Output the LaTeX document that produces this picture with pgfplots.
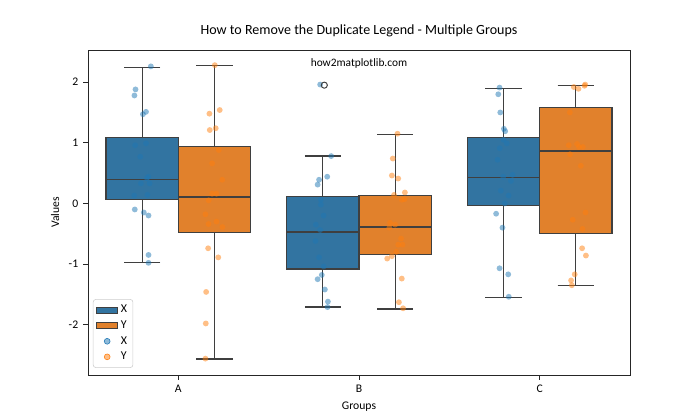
\documentclass[border=0pt]{standalone}
\usepackage{fontspec}
\setmainfont{Carlito}
\usepackage{pgfplots}
\pgfplotsset{compat=1.18}
\usepgfplotslibrary{statistics}
\usetikzlibrary{calc}
\definecolor{boxX}{HTML}{3274A1}
\definecolor{boxY}{HTML}{E1812C}
\definecolor{ptX}{HTML}{1F77B4}
\definecolor{ptY}{HTML}{FF7F0E}
\definecolor{edge}{HTML}{3F3F3F}
\begin{document}
\begin{tikzpicture}
\begin{axis}[
  scale only axis, width=390.24pt, height=234pt,
  xmin=-0.5, xmax=2.5, ymin=-2.83, ymax=2.53,
  xtick={0,1,2}, xticklabels={A,B,C},
  ytick={-2,-1,0,1,2},
  /pgf/number format/assume math mode=true,
  tick align=outside, tick pos=left, major tick length=3.5pt,
  tick style={black!85, line width=0.6pt},
  axis line style={black!85, line width=0.6pt},
  ticklabel style={font=\fontsize{8.4}{10}\selectfont},
  xlabel={Groups}, ylabel={Values},
  label style={font=\fontsize{8.4}{10}\selectfont},
  title={How to Remove the Duplicate Legend - Multiple Groups},
  title style={font=\fontsize{10.1}{12}\selectfont},
  legend style={at={(0.009,0.022)}, anchor=south west, draw=black!20, rounded corners=2pt,
    font=\fontsize{8.6}{10}\selectfont, row sep=0.2pt, inner sep=2.2pt},
  legend cell align=left,
  boxplot/draw direction=y,
]
% boxes
\addplot[boxplot prepared={draw position=-0.2, lower whisker=-0.98, lower quartile=0.07, median=0.40, upper quartile=1.09, upper whisker=2.244, box extend=0.4, whisker extend=0.2}, fill=boxX, draw=edge, line width=0.9pt, forget plot] coordinates {};
\addplot[boxplot prepared={draw position=0.2, lower whisker=-2.567, lower quartile=-0.475, median=0.107, upper quartile=0.942, upper whisker=2.277, box extend=0.4, whisker extend=0.2}, fill=boxY, draw=edge, line width=0.9pt, forget plot] coordinates {};
\addplot[boxplot prepared={draw position=0.8, lower whisker=-1.71, lower quartile=-1.08, median=-0.47, upper quartile=0.12, upper whisker=0.78, box extend=0.4, whisker extend=0.2}, fill=boxX, draw=edge, line width=0.9pt, forget plot] coordinates {};
\addplot[boxplot prepared={draw position=1.2, lower whisker=-1.74, lower quartile=-0.84, median=-0.39, upper quartile=0.13, upper whisker=1.14, box extend=0.4, whisker extend=0.2}, fill=boxY, draw=edge, line width=0.9pt, forget plot] coordinates {};
\addplot[boxplot prepared={draw position=1.8, lower whisker=-1.55, lower quartile=-0.04, median=0.43, upper quartile=1.09, upper whisker=1.90, box extend=0.4, whisker extend=0.2}, fill=boxX, draw=edge, line width=0.9pt, forget plot] coordinates {};
\addplot[boxplot prepared={draw position=2.2, lower whisker=-1.36, lower quartile=-0.50, median=0.865, upper quartile=1.58, upper whisker=1.95, box extend=0.4, whisker extend=0.2}, fill=boxY, draw=edge, line width=0.9pt, forget plot] coordinates {};
% strip points X
\addplot[only marks, color=ptX, mark=*, mark size=2.1pt, mark options={fill=ptX, fill opacity=0.5, draw opacity=0}, forget plot] coordinates {
(-0.152,2.26) (-0.237,1.88) (-0.243,1.78) (-0.179,1.51) (-0.196,1.47) (-0.239,0.96) (-0.179,0.99) (-0.211,0.77) (-0.165,0.44) (-0.174,0.415) (-0.207,0.33) (-0.159,0.33) (-0.244,0.13) (-0.171,0.14) (-0.241,-0.10) (-0.191,-0.15) (-0.165,-0.20) (-0.165,-0.85) (-0.165,-0.98)
(0.785,1.96) (0.846,0.78) (0.824,0.44) (0.779,0.39) (0.771,0.31) (0.789,0.06) (0.789,-0.02) (0.804,-0.20) (0.761,-0.35) (0.785,-0.44) (0.759,-0.62) (0.779,-0.89) (0.804,-1.04) (0.794,-1.18) (0.771,-1.25) (0.811,-1.42) (0.828,-1.62) (0.826,-1.71)
(1.778,1.91) (1.771,1.80) (1.782,1.50) (1.802,1.23) (1.809,1.19) (1.800,1.05) (1.818,0.99) (1.779,0.91) (1.767,0.72) (1.798,0.44) (1.850,0.47) (1.841,0.37) (1.785,0.21) (1.828,0.13) (1.807,0.00) (1.759,-0.17) (1.794,-0.40) (1.778,-1.07) (1.826,-1.17) (1.829,-1.54)
};
% strip points Y
\addplot[only marks, color=ptY, mark=*, mark size=2.1pt, mark options={fill=ptY, fill opacity=0.5, draw opacity=0}, forget plot] coordinates {
(0.202,2.28) (0.229,1.54) (0.172,1.48) (0.207,1.24) (0.174,1.21) (0.224,0.88) (0.187,0.66) (0.243,0.39) (0.187,0.16) (0.211,0.16) (0.168,0.05) (0.150,-0.18) (0.211,-0.30) (0.167,-0.34) (0.244,-0.39) (0.165,-0.74) (0.221,-0.89) (0.154,-1.46) (0.152,-1.98) (0.150,-2.56)
(1.213,1.15) (1.187,0.74) (1.182,0.46) (1.217,0.41) (1.254,0.18) (1.194,0.14) (1.237,0.06) (1.252,0.07) (1.172,-0.32) (1.200,-0.35) (1.168,-0.40) (1.233,-0.58) (1.217,-0.68) (1.241,-0.68) (1.206,-0.80) (1.182,-0.87) (1.156,-0.91) (1.237,-1.24) (1.221,-1.63) (1.244,-1.73)
(2.252,1.96) (2.248,1.94) (2.189,1.92) (2.215,1.89) (2.167,1.50) (2.161,0.96) (2.207,0.98) (2.218,0.93) (2.239,0.93) (2.168,0.81) (2.228,0.62) (2.254,-0.15) (2.183,-0.27) (2.237,-0.42) (2.235,-0.74) (2.256,-0.86) (2.194,-1.17) (2.174,-1.27) (2.178,-1.35)
};
% outlier
\addplot[only marks, mark=o, mark size=2.2pt, mark options={draw=edge, fill=none, line width=0.7pt}, forget plot] coordinates {(0.808,1.95)};
% legend
\addlegendimage{legend image code/.code={\draw[sharp corners,fill=boxX,draw=edge,line width=0.8pt] (0pt,-2.2pt) rectangle (15pt,2.2pt);}}
\addlegendentry{X}
\addlegendimage{legend image code/.code={\draw[sharp corners,fill=boxY,draw=edge,line width=0.8pt] (0pt,-2.2pt) rectangle (15pt,2.2pt);}}
\addlegendentry{Y}
\addlegendimage{legend image code/.code={\fill[ptX, fill opacity=0.5] (7.5pt,0pt) circle (2.1pt);}}
\addlegendentry{X}
\addlegendimage{legend image code/.code={\fill[ptY, fill opacity=0.5] (7.5pt,0pt) circle (2.1pt);}}
\addlegendentry{Y}
\node[font=\fontsize{8.2}{10}\selectfont] at (rel axis cs:0.5,0.96) {how2matplotlib.com};
\end{axis}
\path ($(current axis.south west)+(-63.36pt,-32.4pt)$) rectangle ($(current axis.north east)+(50.4pt,36pt)$);
\end{tikzpicture}
\end{document}
